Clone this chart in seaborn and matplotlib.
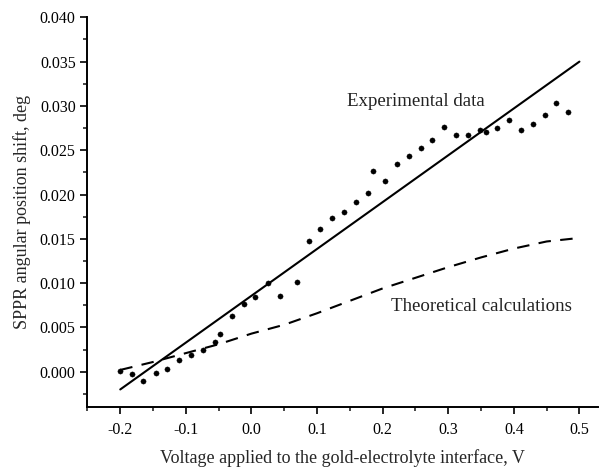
import numpy as np
import pandas as pd
import matplotlib
matplotlib.use("Agg")
import matplotlib.pyplot as plt
import matplotlib.ticker as mticker
import seaborn as sns

# Experimental points
exp_v = [-0.200, -0.182, -0.165, -0.146, -0.128, -0.110, -0.092, -0.074, -0.056, -0.048,
         -0.030, -0.012, 0.006, 0.025, 0.043, 0.069, 0.088, 0.105, 0.123, 0.141,
         0.160, 0.177, 0.186, 0.204, 0.222, 0.240, 0.258, 0.276, 0.294, 0.312,
         0.330, 0.348, 0.357, 0.375, 0.393, 0.411, 0.429, 0.447, 0.464, 0.482]
exp_shift = [0.0001, -0.0003, -0.0010, -0.0002, 0.0003, 0.0013, 0.0019, 0.0024, 0.0033, 0.0043,
             0.0063, 0.0076, 0.0084, 0.0100, 0.0085, 0.0101, 0.0147, 0.0161, 0.0173, 0.0180,
             0.0192, 0.0202, 0.0226, 0.0215, 0.0234, 0.0244, 0.0253, 0.0262, 0.0276, 0.0267,
             0.0267, 0.0273, 0.0271, 0.0275, 0.0284, 0.0273, 0.0280, 0.0290, 0.0303, 0.0293]

# Linear fit through the experimental data (end points)
fit_v = [-0.2, 0.5]
fit_shift = [-0.002, 0.035]

# Theoretical curve
theo_v = [-0.20, -0.15, -0.10, -0.05, 0.00, 0.05, 0.10, 0.15, 0.20, 0.25, 0.30, 0.35, 0.40, 0.45, 0.50]
theo_shift = [0.0002, 0.0011, 0.0021, 0.0031, 0.0043, 0.0053, 0.0066, 0.0080, 0.0094, 0.0106,
              0.0118, 0.0129, 0.0139, 0.0147, 0.0151]

df_exp = pd.DataFrame({"V": exp_v, "shift": exp_shift})
df_fit = pd.DataFrame({"V": fit_v, "shift": fit_shift})
df_theo = pd.DataFrame({"V": theo_v, "shift": theo_shift})

sns.set_style("ticks")
plt.rcParams["font.family"] = ["Liberation Serif", "DejaVu Serif"]
plt.rcParams["axes.unicode_minus"] = False

fig = plt.figure(figsize=(5.99, 4.68), dpi=100)
ax = fig.add_axes([0.146, 0.130, 0.852, 0.833])

sns.lineplot(x="V", y="shift", data=df_fit, color="black", linewidth=1.5, ax=ax)
sns.lineplot(x="V", y="shift", data=df_theo, color="black", linewidth=1.5, ax=ax)
ax.lines[-1].set_dashes((6, 4.5))
sns.scatterplot(x="V", y="shift", data=df_exp, color="black", s=14, edgecolor="black", ax=ax)

ax.set_xlim(-0.25, 0.528)
ax.set_ylim(-0.004, 0.040)
ax.xaxis.set_major_locator(mticker.MultipleLocator(0.1))
ax.xaxis.set_minor_locator(mticker.MultipleLocator(0.05))
ax.yaxis.set_major_locator(mticker.MultipleLocator(0.005))
ax.yaxis.set_minor_locator(mticker.MultipleLocator(0.0025))
ax.xaxis.set_major_formatter(mticker.FormatStrFormatter("%.1f"))
ax.yaxis.set_major_formatter(mticker.FormatStrFormatter("%.3f"))
ax.tick_params(which="major", direction="out", length=5, width=1.2, labelsize=11.5, colors="black")
ax.tick_params(axis="x", which="major", pad=6)
ax.tick_params(which="minor", direction="out", length=3, width=1.2)

sns.despine(ax=ax)
for s in ["left", "bottom"]:
    ax.spines[s].set_linewidth(1.4)
    ax.spines[s].set_color("black")

ax.set_xlabel("Voltage applied to the gold-electrolyte interface, V", fontsize=13, labelpad=8)
ax.set_ylabel("SPPR angular position shift, deg", fontsize=13, labelpad=6)

ax.text(0.145, 0.0305, "Experimental data", fontsize=13.6, va="center", ha="left", color="#222222")
ax.text(0.213, 0.0074, "Theoretical calculations", fontsize=13.6, va="center", ha="left", color="#222222")

fig.savefig("out.png", dpi=100)
